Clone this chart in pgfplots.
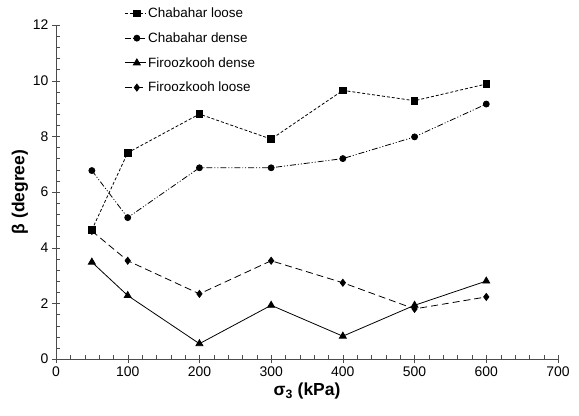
\documentclass[border=0pt]{standalone}
\usepackage{fontspec}
\setmainfont{Liberation Sans}
\usepackage{pgfplots}
\pgfplotsset{compat=1.18}

\begin{document}
\begin{tikzpicture}
\useasboundingbox (-56bp,-57bp) rectangle (523bp,359bp);
\begin{axis}[
  scale only axis,
  width=502bp, height=334bp,
  xmin=0, xmax=700, ymin=0, ymax=12,
  axis lines*=left,
  axis line style={black!70},
  xtick={0,100,...,700}, ytick={0,2,...,12},
  minor x tick num=4, minor y tick num=4,
  tick align=center,
  major tick length=8bp, minor tick length=4bp,
  tick style={black!70},
  minor x tick style={yshift=2bp},
  minor y tick style={xshift=2bp},
  /pgf/number format/assume math mode=true,
  ticklabel style={font=\fontsize{14}{16}\selectfont},
  xlabel={\textbf{σ\textsubscript{3} (kPa)}},
  ylabel={\textbf{β (degree)}},
  label style={font=\fontsize{17.5}{20}\selectfont},
  ylabel style={yshift=-2bp},
  legend style={draw=none, fill=none, at={(0.13,1.064)}, anchor=north west,
    font=\fontsize{13.5}{15}\selectfont, row sep=9.5bp,
    legend cell align=left},
  legend image code/.code={%
    \draw[mark repeat=2,mark phase=2,#1] plot coordinates {(0bp,0bp) (12bp,0bp) (21bp,0bp)};},
  every axis plot/.append style={black, line width=0.8pt},
]
\addplot[densely dashed, mark=square*, mark size=3.3bp, mark options={solid}]
  coordinates {(50,4.64) (100,7.41) (200,8.8) (300,7.9) (400,9.65) (500,9.28) (600,9.88)};
\addplot[dash pattern=on 6pt off 2pt on 1pt off 2pt on 1pt off 2pt, mark=*, mark size=3bp, mark options={solid}]
  coordinates {(50,6.77) (100,5.08) (200,6.87) (300,6.87) (400,7.2) (500,7.98) (600,9.16)};
\addplot[solid, mark=triangle*, mark size=4bp]
  coordinates {(50,3.48) (100,2.28) (200,0.55) (300,1.93) (400,0.82) (500,1.93) (600,2.8)};
\addplot[dash pattern=on 7pt off 4pt, mark=diamond*, mark size=3.5bp, mark options={solid}]
  coordinates {(50,4.6) (100,3.53) (200,2.34) (300,3.53) (400,2.74) (500,1.8) (600,2.23)};
\legend{Chabahar loose, Chabahar dense, Firoozkooh dense, Firoozkooh loose}
\end{axis}
\end{tikzpicture}
\end{document}
